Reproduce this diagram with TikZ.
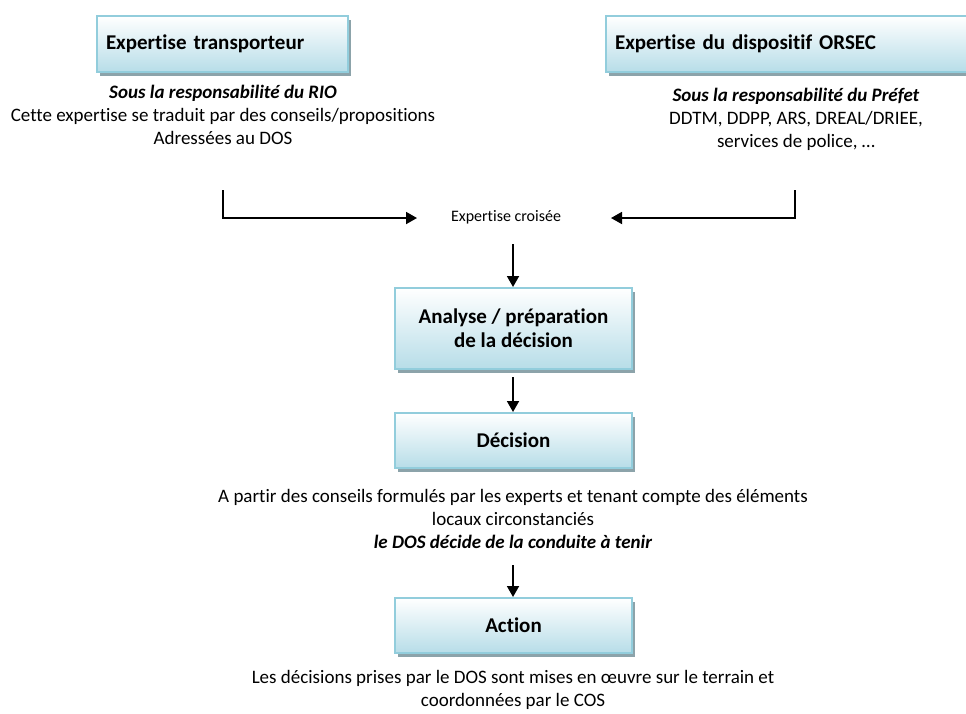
\documentclass[tikz,border=0pt]{standalone}
\usepackage{fontspec}
\setmainfont{Carlito}[Ligatures=NoCommon]
\usetikzlibrary{arrows.meta,shadows}
\definecolor{boxbot}{RGB}{183,221,232}
\definecolor{boxedge}{RGB}{146,205,220}
\definecolor{shadowcol}{RGB}{140,163,170}
\tikzset{
  box/.style={draw=boxedge, line width=2pt, top color=white, bottom color=boxbot,
    general shadow={fill=shadowcol, shadow xshift=3pt, shadow yshift=-4pt},
    font=\fontsize{21}{24}\selectfont\bfseries, inner sep=0pt},
  txt/.style={font=\fontsize{19}{23}\selectfont, align=center, inner sep=0pt},
  arr/.style={line width=1.8pt, -{Triangle[length=11pt,width=12pt]}},
}
\begin{document}
\begin{tikzpicture}[x=1pt,y=-1pt]
\useasboundingbox (0,0) rectangle (966,713);
\clip (0,0) rectangle (966,713);
% top boxes
\node[box, minimum width=251pt, minimum height=56pt, text width=233pt, align=left, inner xsep=9pt] (b1) at (222.5,44) {Expertise transporteur};
\node[box, minimum width=394pt, minimum height=56pt, text width=376pt, align=left, inner xsep=9pt] (b2) at (803,44) {Expertise du dispositif ORSEC};
\node[txt] (t1) at (223,115) {\textbf{\textit{Sous la responsabilité du RIO}}\\Cette expertise se traduit par des conseils/propositions\\Adressées au DOS};
\node[txt] (t2) at (796,119) {\textbf{\textit{Sous la responsabilité du Préfet}}\\DDTM, DDPP, ARS, DREAL/DRIEE,\\services de police, …};
% cross expertise
\node[txt, font=\fontsize{16}{18}\selectfont] (cx) at (506,217) {Expertise croisée};
\coordinate (l1) at (223,190);
\coordinate (r1) at (795,190);
\coordinate (la) at (417,218);
\coordinate (ra) at (611,218);
\draw[arr] (l1) |- (la);
\draw[arr] (r1) |- (ra);
% column
\node[box, minimum width=237pt, minimum height=81pt, align=center] (b3) at (513.5,328.5) {Analyse / préparation\\de la décision};
\node[box, minimum width=237pt, minimum height=55pt] (b4) at (513.5,440.5) {Décision};
\node[box, minimum width=237pt, minimum height=55pt] (b5) at (513.5,625.5) {Action};
\node[txt] (t4) at (513,519) {A partir des conseils formulés par les experts et tenant compte des éléments\\locaux circonstanciés\\\textbf{\textit{le DOS décide de la conduite à tenir}}};
\node[txt] (t5) at (513,690) {Les décisions prises par le DOS sont mises en œuvre sur le terrain et\\coordonnées par le COS};
\coordinate (a1) at (513,244);
\coordinate (a2) at (513,377);
\coordinate (a3) at (513,565);
\draw[arr] (a1) -- (a1 |- b3.north);
\draw[arr] (a2) -- (a2 |- b4.north);
\draw[arr] (a3) -- (a3 |- b5.north);
\end{tikzpicture}
\end{document}
